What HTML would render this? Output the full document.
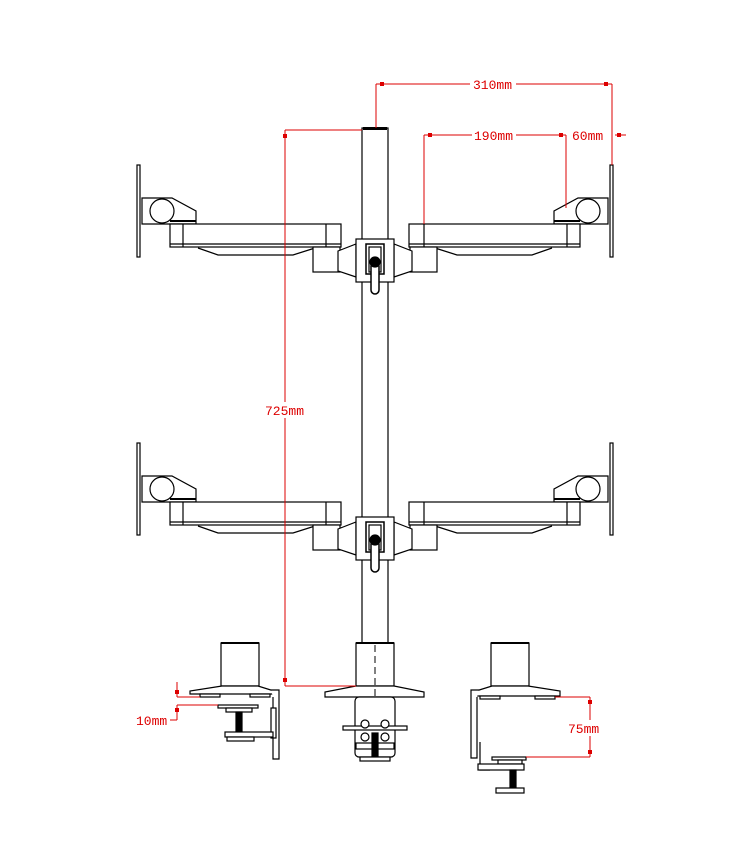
<!DOCTYPE html>
<html><head><style>html,body{margin:0;padding:0;background:#fff}svg{display:block}</style></head>
<body>
<svg width="750" height="850" viewBox="0 0 750 850" xmlns="http://www.w3.org/2000/svg">
<defs>
<g id="arm" fill="#fff" stroke="#000" stroke-width="1.2">
  <!-- left side -->
  <rect x="137" y="165" width="3" height="92"/>
  <path d="M142 198 L172 198 L196 211 L196 224 L142 224 Z"/>
  <circle cx="162" cy="211" r="12"/>
  <line x1="170" y1="221" x2="196" y2="221" stroke-width="2"/>
  <path d="M198 248 L218 255 L293 255 L315 248" fill="none"/>
  <rect x="170" y="224" width="171" height="23"/>
  <line x1="183" y1="224" x2="183" y2="247"/>
  <line x1="326" y1="224" x2="326" y2="247"/>
  <line x1="170" y1="244" x2="341" y2="244"/>
  <rect x="313" y="247" width="27" height="25"/>
  <path d="M338 251 L356 244 L356 277 L338 271 Z"/>
  <!-- right side (mirror) -->
  <rect x="610" y="165" width="3" height="92"/>
  <path d="M608 198 L578 198 L554 211 L554 224 L608 224 Z"/>
  <circle cx="588" cy="211" r="12"/>
  <line x1="554" y1="221" x2="580" y2="221" stroke-width="2"/>
  <path d="M552 248 L532 255 L457 255 L435 248" fill="none"/>
  <rect x="409" y="224" width="171" height="23"/>
  <line x1="567" y1="224" x2="567" y2="247"/>
  <line x1="424" y1="224" x2="424" y2="247"/>
  <line x1="409" y1="244" x2="580" y2="244"/>
  <rect x="410" y="247" width="27" height="25"/>
  <path d="M412 251 L394 244 L394 277 L412 271 Z"/>
  <!-- head -->
  <rect x="356" y="239" width="38" height="43"/>
  <rect x="366" y="244" width="18" height="30" stroke-width="1.5"/>
  <rect x="369" y="247" width="12" height="25"/>
  <rect x="371" y="262" width="8" height="32" rx="4" stroke-width="1.5"/>
  <circle cx="375" cy="262" r="5" fill="#000"/>
</g>
</defs>

<!-- pole -->
<rect x="362" y="128" width="26" height="560" fill="#fff" stroke="#000" stroke-width="1.2"/>
<rect x="363" y="127" width="24" height="3" fill="#000"/>

<use href="#arm"/>
<use href="#arm" transform="translate(0,278)"/>

<g fill="#fff" stroke="#000" stroke-width="1.2">
  <!-- left clamp -->
  <rect x="221" y="643" width="38" height="43"/>
  <line x1="221" y1="643" x2="259" y2="643" stroke-width="2"/>
  <path d="M190 694 L190 691 L222 686 L258 686 L274 691 L274 694 Z"/>
  <rect x="200" y="694" width="20" height="3"/>
  <rect x="250" y="694" width="20" height="3"/>
  <path d="M271 690 L279 690 L279 759 L273 759 L273 697"/>
  <rect x="271" y="708" width="5" height="30"/>
  <rect x="218" y="705" width="40" height="3"/>
  <rect x="226" y="708" width="26" height="4"/>
  <rect x="236" y="712" width="6" height="21" fill="#000"/>
  <rect x="225" y="732" width="48" height="5"/>
  <rect x="227" y="737" width="27" height="4"/>
  <!-- center clamp -->
  <rect x="356" y="643" width="38" height="43"/>
  <line x1="356" y1="643" x2="394" y2="643" stroke-width="2"/>
  <path d="M325 697 L325 692 L356 686 L394 686 L424 692 L424 697 Z"/>
  <rect x="355" y="697" width="40" height="60" rx="4"/>
  <rect x="343" y="726" width="64" height="4"/>
  <circle cx="365" cy="724" r="4"/><circle cx="385" cy="724" r="4"/>
  <circle cx="365" cy="737" r="4"/><circle cx="385" cy="737" r="4"/>
  <rect x="356" y="743" width="38" height="6"/>
  <rect x="372" y="733" width="6" height="24" fill="#000"/>
  <rect x="360" y="757" width="30" height="4"/>
  <!-- right clamp -->
  <rect x="491" y="643" width="38" height="43"/>
  <line x1="491" y1="643" x2="529" y2="643" stroke-width="2"/>
  <path d="M476 696 L476 691 L492 686 L528 686 L560 691 L560 696 Z"/>
  <rect x="480" y="696" width="20" height="3"/>
  <rect x="535" y="696" width="20" height="3"/>
  <path d="M479 690 L471 690 L471 758 L477 758 L477 697"/>
  <path d="M480 742 L480 770 L490 770"/>
  <rect x="492" y="757" width="34" height="3"/>
  <rect x="498" y="760" width="24" height="4"/>
  <rect x="478" y="764" width="46" height="6"/>
  <rect x="510" y="770" width="6" height="19" fill="#000"/>
  <rect x="496" y="788" width="28" height="5"/>
</g>
<line x1="375" y1="645" x2="375" y2="700" stroke="#000" stroke-dasharray="7,4"/>

<!-- dimensions -->
<g stroke="#d00" stroke-width="1" fill="none">
  <line x1="376" y1="84" x2="612" y2="84"/>
  <line x1="376" y1="84" x2="376" y2="128"/>
  <line x1="612" y1="84" x2="612" y2="165"/>
  <line x1="424" y1="135" x2="566" y2="135"/>
  <line x1="424" y1="135" x2="424" y2="224"/>
  <line x1="566" y1="135" x2="566" y2="208"/>
  <line x1="615" y1="135" x2="626" y2="135"/>
  <line x1="285" y1="130" x2="362" y2="130"/>
  <line x1="285" y1="130" x2="285" y2="686"/>
  <line x1="285" y1="686" x2="356" y2="686"/>
  <line x1="177" y1="682" x2="177" y2="697"/>
  <line x1="177" y1="697" x2="200" y2="697"/>
  <line x1="177" y1="705" x2="218" y2="705"/>
  <line x1="177" y1="705" x2="177" y2="720"/>
  <line x1="170" y1="720" x2="177" y2="720"/>
  <line x1="555" y1="697" x2="590" y2="697"/>
  <line x1="526" y1="757" x2="590" y2="757"/>
  <line x1="590" y1="697" x2="590" y2="757"/>
</g>
<g fill="#d00">
  <rect x="380" y="82" width="4" height="4"/><rect x="604" y="82" width="4" height="4"/>
  <rect x="428" y="133" width="4" height="4"/><rect x="559" y="133" width="4" height="4"/>
  <rect x="617" y="133" width="4" height="4"/>
  <rect x="283" y="134" width="4" height="4"/><rect x="283" y="678" width="4" height="4"/>
  <rect x="175" y="690" width="4" height="4"/><rect x="175" y="708" width="4" height="4"/>
  <rect x="588" y="700" width="4" height="4"/><rect x="588" y="750" width="4" height="4"/>
</g>
<g font-family="'Liberation Mono', monospace" font-size="13" fill="#d00">
  <rect x="470" y="76" width="46" height="16" fill="#fff"/>
  <text x="473" y="89">310mm</text>
  <rect x="472" y="127" width="44" height="16" fill="#fff"/>
  <text x="474" y="140">190mm</text>
  <text x="572" y="140">60mm</text>
  <rect x="264" y="402" width="42" height="16" fill="#fff"/>
  <text x="265" y="415">725mm</text>
  <text x="136" y="725">10mm</text>
  <rect x="566" y="720" width="40" height="16" fill="#fff"/>
  <text x="568" y="733">75mm</text>
</g>
</svg>
</body></html>
